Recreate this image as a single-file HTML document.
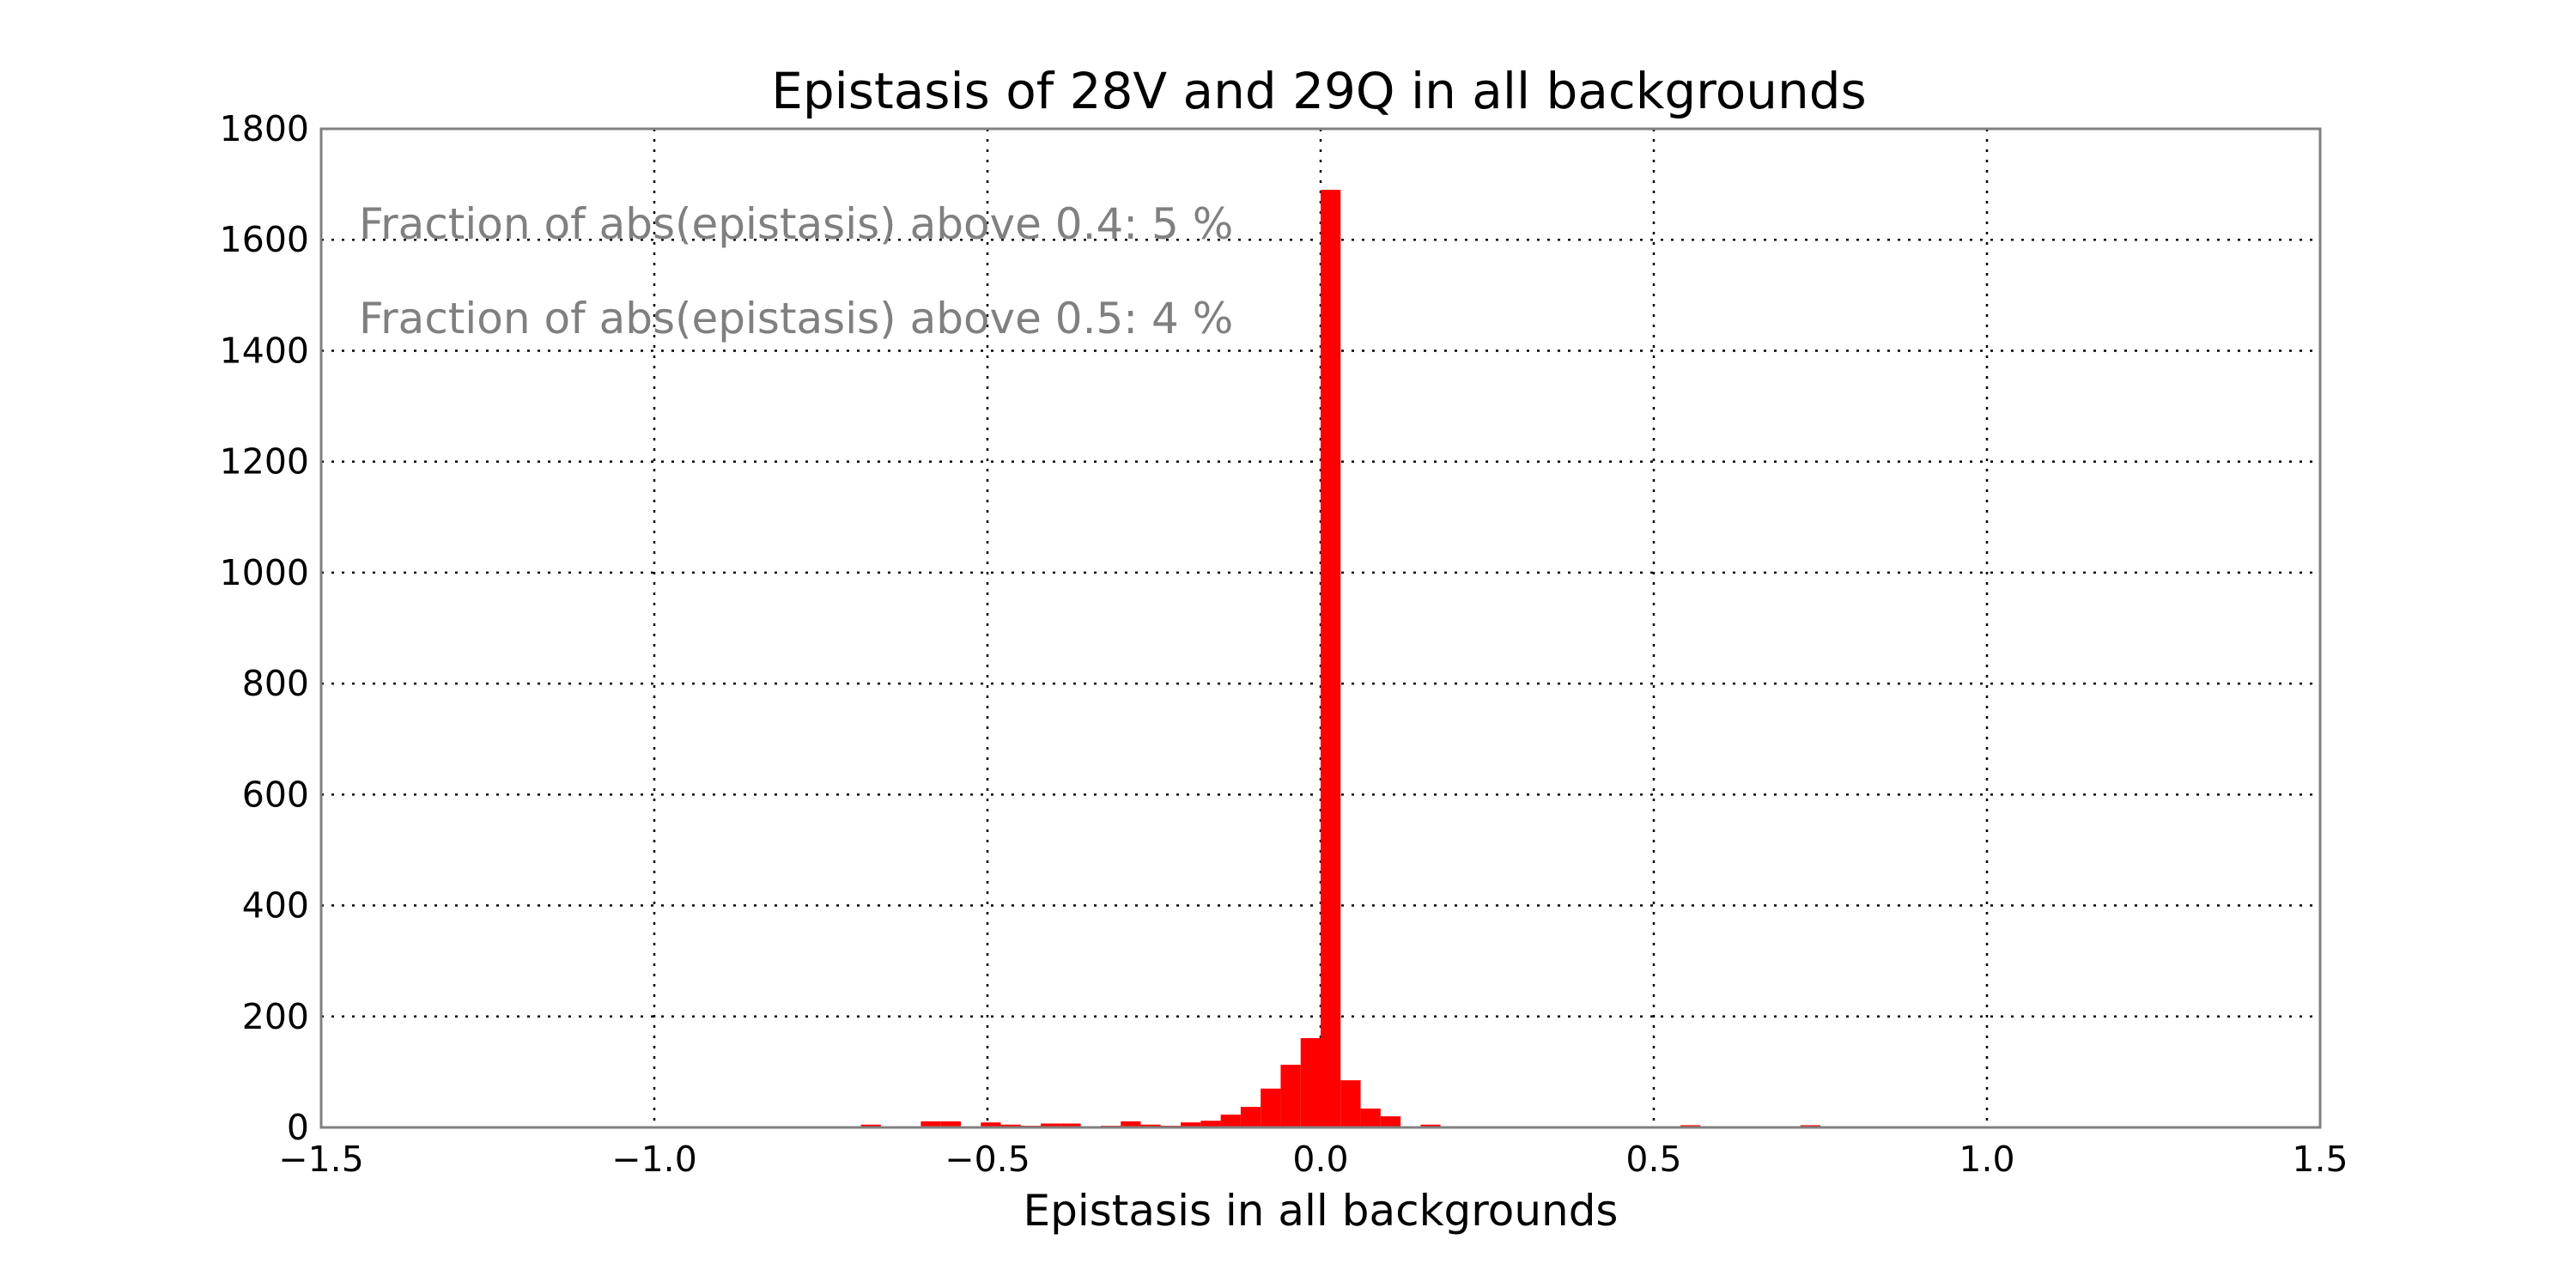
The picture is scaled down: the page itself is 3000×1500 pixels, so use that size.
<!DOCTYPE html>
<html><head><meta charset="utf-8"><style>
html,body{margin:0;padding:0;background:#fff;}
svg{display:block;font-family:"DejaVu Sans","Liberation Sans",sans-serif;}
</style></head><body>
<svg id="chart" width="3000" height="1500" viewBox="0 0 3000 1500" xmlns="http://www.w3.org/2000/svg">
<rect width="3000" height="1500" fill="#fff"/>
<g id="grid"></g>
<g id="bars"></g>
<g id="axes"></g>
<text x="1536" y="126" font-size="58" text-anchor="middle">Epistasis of 28V and 29Q in all backgrounds</text>
<text x="1538" y="1427" font-size="50" text-anchor="middle">Epistasis in all backgrounds</text>
<text x="418" y="278" font-size="50" fill="#808080">Fraction of abs(epistasis) above 0.4: 5 %</text>
<text x="418" y="388" font-size="50" fill="#808080">Fraction of abs(epistasis) above 0.5: 4 %</text>
</svg>
<script>
const binStarts = [-0.93,-0.69,-0.66,-0.60,-0.57,-0.51,-0.48,-0.45,-0.42,-0.39,-0.33,-0.30,-0.27,-0.24,-0.21,-0.18,-0.15,-0.12,-0.09,-0.06,-0.03,0,0.03,0.06,0.09,0.12,0.15,0.39,0.45,0.54,0.63,0.72];
const counts = [2,5,2,11,11,9,5,3,7,7,3,11,5,3,9,12,23,37,70,113,161,1690,85,34,20,2,5,2,2,4,2,4];
const binWidth = 0.03;
const xTicks = [-1.5,-1.0,-0.5,0.0,0.5,1.0,1.5];
const xTickLabels = ["\u22121.5","\u22121.0","\u22120.5","0.0","0.5","1.0","1.5"];
const yTicks = [0,200,400,600,800,1000,1200,1400,1600,1800];

const X0=374,X1=2702,Y0=1313,Y1=150;
const xs = v => X0 + (v+1.5)/3*(X1-X0);
const ys = v => Y0 - v/1800*(Y0-Y1);
const NS="http://www.w3.org/2000/svg";
function mk(tag,attrs,parent){const e=document.createElementNS(NS,tag);for(const k in attrs)e.setAttribute(k,attrs[k]);parent.appendChild(e);return e;}
const grid=document.getElementById('grid'),bars=document.getElementById('bars'),axes=document.getElementById('axes');

xTicks.forEach((t,i)=>{
  const x=xs(t);
  const g=mk('line',{x1:x,x2:x,y1:Y1,y2:Y0,stroke:'#000','stroke-width':2.5,'stroke-dasharray':'3,9'},grid);
  
  
  const lb=mk('text',{x:x,y:1364,'font-size':41,'text-anchor':'middle'},axes);
  lb.textContent=xTickLabels[i];
  
  
});
yTicks.forEach(t=>{
  const y=ys(t);
  const g=mk('line',{x1:X0,x2:X1,y1:y,y2:y,stroke:'#000','stroke-width':2.5,'stroke-dasharray':'3,9'},grid);
  
  
  const lb=mk('text',{x:360,y:y+14,'font-size':41,'text-anchor':'end'},axes);
  lb.textContent=String(t);
  
  
});
binStarts.forEach((b,i)=>{
  const x=xs(b),w=xs(b+binWidth)-x,y=ys(counts[i]);
  const r=mk('rect',{x:x,y:y,width:w,height:Y0-y,fill:'#ff0000'},bars);
  
  
});
const frame=mk('rect',{x:X0,y:Y1,width:X1-X0,height:Y0-Y1,fill:'none',stroke:'#808080','stroke-width':3},axes);


</script>
</body></html>
